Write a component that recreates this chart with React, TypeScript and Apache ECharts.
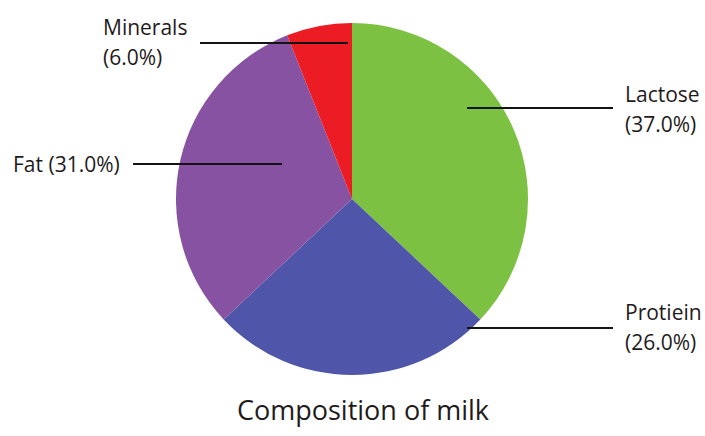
import React, { useEffect, useRef } from "react";
import * as echarts from "echarts";

const categories = ["Lactose", "Protiein", "Fat", "Minerals"];
const values = [37, 26, 31, 6];
const colors = ["#7cc142", "#4f55a8", "#8652a1", "#ec1c24"];
const titleText = "Composition of milk";

// label placement (layout only): label anchor, leader-line start (inside slice) and end
const labelPlacement = [
  { x: 625, y: 109, start: [467, 108], end: [613, 108], oneLine: false },
  { x: 625, y: 327, start: [467, 328], end: [613, 328], oneLine: false },
  { x: 13, y: 164, start: [282, 164], end: [133, 164], oneLine: true },
  { x: 103, y: 42, start: [348, 43], end: [200, 43], oneLine: false },
];

export default function App() {
  const ref = useRef<HTMLDivElement>(null);
  useEffect(() => {
    if (!ref.current) return;
    const chart = echarts.init(ref.current, null, { renderer: "svg" });
    const font = "'Open Sans', 'Noto Sans', sans-serif";
    chart.setOption({
      animation: false,
      backgroundColor: "#ffffff",
      title: {
        text: titleText,
        left: 358,
        textAlign: "center",
        top: 391,
        textStyle: {
          fontFamily: font,
          fontSize: 27,
          fontWeight: "normal",
          color: "#1f1b1c",
        },
      },
      graphic: labelPlacement.map((lp) => ({
        type: "line",
        z: 100,
        silent: true,
        shape: { x1: lp.start[0], y1: lp.start[1], x2: lp.end[0], y2: lp.end[1] },
        style: { stroke: "#141414", lineWidth: 2 },
      })),
      series: [
        {
          type: "pie",
          center: [352, 199],
          radius: 176,
          startAngle: 90,
          clockwise: true,
          avoidLabelOverlap: false,
          data: categories.map((name, i) => ({
            name,
            value: values[i],
            itemStyle: { color: colors[i] },
          })),
          label: {
            show: true,
            position: "outside",
            fontFamily: font,
            fontSize: 21,
            lineHeight: 30,
            color: "#1f1b1c",
            formatter: (p: any) => {
              const pct = Number(p.percent).toFixed(1) + "%";
              return labelPlacement[p.dataIndex].oneLine
                ? `${p.name} (${pct})`
                : `${p.name}\n(${pct})`;
            },
          },
          labelLine: { show: false },
          labelLayout: (params: any) => {
            const lp = labelPlacement[params.dataIndex];
            return {
              x: lp.x,
              y: lp.y,
              align: "left",
              verticalAlign: "middle",
            };
          },
          emphasis: { disabled: true },
        },
      ],
    });
    return () => chart.dispose();
  }, []);
  return (
    <div
      ref={ref}
      style={{ position: "fixed", left: 0, top: 0, width: 705, height: 436 }}
    />
  );
}
